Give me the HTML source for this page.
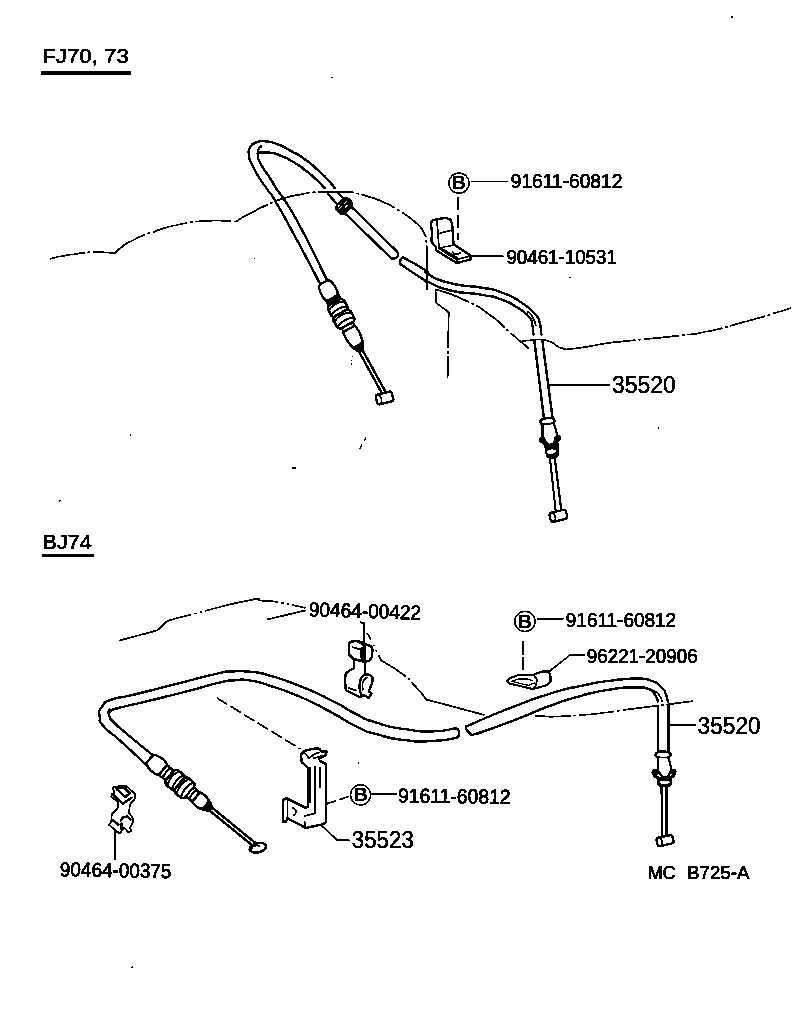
<!DOCTYPE html>
<html><head><meta charset="utf-8"><title>Diagram</title>
<style>
html,body{margin:0;padding:0;background:#fff;}
body{width:792px;height:1010px;overflow:hidden;}
svg{display:block;}
text{font-family:"Liberation Sans",sans-serif;fill:#000;}
.s{fill:none;stroke:#000;stroke-width:2.4;stroke-linecap:round;stroke-linejoin:round;}
.sw{fill:#fff;stroke:#000;stroke-width:2.4;stroke-linecap:round;stroke-linejoin:round;}
.t{fill:none;stroke:#000;stroke-width:1.75;stroke-linecap:round;stroke-linejoin:round;}
.dd{fill:none;stroke:#000;stroke-width:1.75;stroke-dasharray:36 2.5 3 2.5;}
.k{fill:#000;stroke:#000;stroke-width:1;stroke-linejoin:round;}
</style></head>
<body>
<svg width="792" height="1010" viewBox="0 0 792 1010">
<defs><filter id="bw" x="0" y="0" width="792" height="1010" filterUnits="userSpaceOnUse" color-interpolation-filters="sRGB">
<feColorMatrix type="saturate" values="0"/>
<feComponentTransfer><feFuncR type="discrete" tableValues="0 1"/><feFuncG type="discrete" tableValues="0 1"/><feFuncB type="discrete" tableValues="0 1"/></feComponentTransfer>
</filter></defs>
<g filter="url(#bw)">
<rect width="792" height="1010" fill="#fff"/>
<text x="42.3" y="63.2" font-size="20.0" font-weight="normal" text-anchor="start" stroke="#000" stroke-width="0.60" textLength="86.5" lengthAdjust="spacingAndGlyphs">FJ70, 73</text>
<rect x="41" y="71.5" width="90.2" height="3" fill="#000"/>
<text x="42.6" y="548.6" font-size="20.3" font-weight="normal" text-anchor="start" stroke="#000" stroke-width="0.60" textLength="49.2" lengthAdjust="spacingAndGlyphs">BJ74</text>
<rect x="42" y="553.8" width="52" height="3" fill="#000"/>
<path class="dd" d="M49.7,259.0 C53.8,258.0 53.4,257.7 62.0,256.0 C70.6,254.3 65.0,255.4 75.5,254.0 C86.0,252.6 83.8,252.3 93.6,251.8 C103.4,251.3 97.9,252.0 105.0,252.5 C112.1,253.0 111.5,253.0 114.8,253.3" />
<path class="dd" d="M114.8,253.3 C117.5,250.9 116.9,250.3 123.0,246.0 C129.1,241.7 123.7,244.7 133.0,240.3 C142.3,235.9 134.8,238.1 151.0,232.7 C167.2,227.3 161.2,228.0 181.5,224.0 C201.8,220.0 197.5,221.6 212.0,220.6 C226.5,219.6 217.0,220.7 225.0,221.0 C233.0,221.3 232.3,221.3 236.0,221.5" />
<path class="dd" d="M236.0,221.5 C240.0,219.2 237.0,220.3 248.0,214.5 C259.0,208.7 256.7,209.5 269.0,204.0 C281.3,198.5 274.7,201.1 285.0,198.0 C295.3,194.9 290.3,196.5 300.0,194.6 C309.7,192.7 304.0,193.2 314.0,192.2 C324.0,191.2 319.3,191.8 330.0,191.7 C340.7,191.6 337.7,191.5 346.0,191.9 C354.3,192.3 347.9,191.5 355.0,193.0 C362.1,194.5 358.3,193.5 367.3,196.3 C376.3,199.1 372.0,197.1 382.0,201.5 C392.0,205.9 386.2,202.7 397.2,209.5 C408.2,216.3 406.2,214.2 415.0,221.9 C423.8,229.6 420.0,226.1 423.7,232.5 C427.4,238.9 425.2,236.2 426.2,241.0 C427.2,245.8 426.5,245.0 426.6,247.0" />
<path class="s" d="M426.7,247.0 L426.8,290.8" style="stroke-width:2.2" stroke-dasharray="26 2.5 14 2.5 20"/>
<path class="t" d="M435.5,289.6 L436.2,302.9 L448.7,312.3" />
<path class="dd" d="M448.7,312.3 L447.6,378.0" />
<path class="dd" d="M435.5,289.2 C445.6,293.0 447.3,291.7 465.8,300.6 C484.3,309.5 475.9,304.9 491.0,315.8 C506.1,326.7 498.3,322.5 511.0,333.4 C523.7,344.3 523.0,343.5 529.0,348.6" />
<path class="t" d="M522.6,341.0 C526.4,340.7 527.7,340.4 534.0,340.0 C540.3,339.6 535.6,338.9 541.5,339.7 C547.4,340.5 544.9,339.5 551.6,342.3 C558.3,345.1 554.0,346.1 561.7,348.2 C569.4,350.3 561.8,349.7 574.6,348.5 C587.4,347.3 591.5,345.8 600.0,344.5" />
<path class="dd" d="M600.0,344.5 C606.2,343.6 592.9,344.7 618.6,341.8 C644.3,338.9 647.7,339.3 677.0,335.9 C706.3,332.5 685.0,335.9 706.5,331.5 C728.0,327.1 713.3,330.5 741.6,322.7 C769.9,314.9 774.8,312.9 791.4,308.0" />
<path class="s" d="M319.4,282.6 C311.5,267.6 310.3,264.6 295.6,237.5 C280.9,210.4 284.7,217.1 275.4,201.3 C266.1,185.5 272.9,197.6 267.7,190.0 C262.5,182.4 265.1,187.4 259.7,178.5 C254.3,169.6 255.0,171.4 251.4,163.3 C247.8,155.2 249.1,159.7 248.8,154.2 C248.5,148.7 248.0,150.6 250.6,146.7 C253.2,142.8 251.6,144.2 256.7,142.4 C261.8,140.6 258.7,140.7 265.8,141.4 C272.9,142.1 269.3,141.1 277.9,144.4 C286.5,147.7 282.4,146.2 291.5,151.2 C300.6,156.2 296.1,152.9 305.2,159.5 C314.3,166.1 310.7,163.6 318.8,170.9 C326.9,178.2 324.1,175.7 329.4,181.5 C334.7,187.3 332.9,186.0 334.7,188.3" />
<path class="s" d="M338.5,193.6 L344.5,199.7" />
<path class="s" d="M326.5,279.1 C318.2,262.5 315.5,255.3 301.6,229.2 C287.7,203.1 293.0,213.8 284.9,200.7 C276.8,187.6 282.1,197.4 277.2,190.0 C272.3,182.6 275.6,186.9 270.3,178.5 C265.0,170.1 265.3,172.4 261.2,164.8 C257.1,157.2 258.7,161.1 257.9,155.8 C257.1,150.5 257.8,152.0 258.9,148.9 C260.0,145.8 260.4,147.2 261.2,146.4" />
<path class="s" d="M258.2,152.7 C262.2,152.7 262.7,151.7 270.3,152.7 C277.9,153.7 273.3,152.8 280.9,155.8 C288.5,158.8 284.9,157.0 293.0,161.8 C301.1,166.6 297.6,164.4 305.2,170.2 C312.8,176.0 309.3,173.2 315.8,179.2 C322.3,185.2 321.8,185.3 324.8,188.3" />
<path class="s" d="M327.9,193.6 L337.0,204.2" />
<g transform="translate(344.0,205.8) rotate(44.5)">
<rect class="k" x="-6.2" y="-8.6" width="12.6" height="17.2" rx="4" ry="6"/>
<path d="M-1.2,-5 L-1.2,-1.5 M-1.2,2 L-1.2,5.5 M1.8,-3.5 L1.8,0.5 M-3.8,2.5 L-3.8,4.5" stroke="#fff" stroke-width="1.2" fill="none"/>
</g>
<path class="s" d="M352.3,207.7 L396.5,251.0" />
<path class="s" d="M345.8,214.2 L391.8,258.8" />
<path class="s" d="M396.5,251.0 C397.1,252.3 398.4,252.7 398.2,255.0 C398.0,257.3 397.9,256.7 395.8,258.0 C393.7,259.3 393.1,258.5 391.8,258.8" />
<path class="s" d="M402.8,257.2 C402.0,258.3 401.1,258.1 400.3,260.5 C399.5,262.9 400.4,263.0 400.5,264.3" />
<path class="s" d="M402.8,257.2 C410.3,261.6 417.0,264.7 425.4,270.3 C433.8,275.9 419.5,269.8 427.9,274.1 C436.3,278.4 432.9,278.7 450.5,283.2 C468.1,287.7 464.0,284.5 480.8,287.5 C497.6,290.5 487.5,287.3 501.0,292.3 C514.5,297.3 509.8,295.0 521.2,302.4 C532.6,309.8 529.1,307.8 535.2,314.5 C541.3,321.2 537.5,315.9 539.6,322.6 C541.7,329.3 540.8,330.5 541.4,334.5" />
<path class="s" d="M400.5,264.3 C407.9,269.2 413.7,273.3 422.8,279.1 C431.9,284.9 418.7,277.9 427.9,281.7 C437.1,285.5 432.9,286.2 450.5,290.5 C468.1,294.8 464.0,291.6 480.8,294.6 C497.6,297.6 488.9,295.1 501.0,299.4 C513.1,303.7 507.9,301.7 517.2,307.5 C526.5,313.3 523.8,311.1 528.8,316.8 C533.8,322.5 530.7,318.7 532.2,324.6 C533.7,330.5 533.0,331.2 533.4,334.5" />
<path class="t" d="M527.5,311.5 C529.3,313.5 530.2,312.8 533.0,317.5 C535.8,322.2 534.9,322.8 535.8,325.5" />
<path class="s" d="M534.4,341.0 L544.0,419.0" />
<path class="s" d="M542.4,341.0 L552.4,417.0" />
<g transform="translate(547.4,421.3) rotate(-7)">
<ellipse class="sw" cx="0" cy="0" rx="7.2" ry="3.3" style="stroke-width:2.6"/>
</g>
<path class="sw" d="M542.6,425.0 L542.6,437.5 L548.5,445.0 L553.5,444.0 L557.3,435.0 L554.2,424.5" style="stroke-width:2.2"/>
<circle class="k" cx="542.3" cy="440" r="2.9"/><circle class="k" cx="557.7" cy="438.2" r="2.9"/>
<path class="s" d="M541.5,441.0 L548.3,446.3 L553.8,445.3 L558.3,439.5" style="stroke-width:3"/>
<path class="k" d="M544.6,445 L558.4,443.5 L558.8,454.5 C558.8,458.5 547,460 546.2,455.5 Z" />
<ellipse cx="551.3" cy="451.6" rx="4.7" ry="2.1" fill="#fff" transform="rotate(-7 551.3 451.6)"/>
<path class="s" d="M549.9,458.0 L555.6,510.0" style="stroke-width:2.1"/>
<path class="s" d="M554.7,457.5 L561.2,509.5" style="stroke-width:2.1"/>
<g transform="translate(558.3,515.8) rotate(-14)">
<rect class="sw" x="-8.5" y="-4.6" width="17" height="9.2" rx="2.5"/>
<path class="t" d="M-4.5,-4.4 C-2.8,-2 -2.8,2 -4.5,4.4"/>
</g>
<path class="t" d="M549.4,385.0 L609.8,385.0" />
<text x="612.0" y="393.2" font-size="24.3" font-weight="normal" text-anchor="start" stroke="#000" stroke-width="0.50" textLength="63.8" lengthAdjust="spacingAndGlyphs">35520</text>
<circle class="s" cx="459.0" cy="183.1" r="10.1" style="stroke-width:1.5"/>
<text x="452.1" y="189.3" font-size="17.6" font-weight="bold" textLength="14.0" lengthAdjust="spacingAndGlyphs" stroke="#000" stroke-width="0.3">B</text>
<path class="t" d="M471.5,181.3 L507.8,181.5" style="stroke-width:1.5"/>
<text x="510.8" y="187.9" font-size="20.2" font-weight="normal" text-anchor="start" stroke="#000" stroke-width="0.75" textLength="111.5" lengthAdjust="spacingAndGlyphs">91611-60812</text>
<path class="t" d="M458.0,197.2 L458.0,239.0" stroke-dasharray="12.5 5.5"/>
<path class="t" d="M470.5,256.0 L503.0,256.0" />
<text x="506.4" y="263.5" font-size="20.2" font-weight="normal" text-anchor="start" stroke="#000" stroke-width="0.75" textLength="110.5" lengthAdjust="spacingAndGlyphs">90461-10531</text>
<path class="sw" d="M430.7,223.4 L432.6,220.2 L445.3,217.7 L450.3,219.6 L452.2,224.0 L453.5,244.2 L470.5,255.6 L470.5,259.3 L456.6,263.1 L436.4,250.5 L435.8,246.7 L431.4,241.7 L432.0,231.6 Z" />
<path class="t" d="M437.0,220.8 L439.0,248.0 L451.6,245.5 L453.5,244.2" />
<path class="t" d="M439.0,233.5 L451.0,230.3" />
<path class="t" d="M439.0,248.6 L456.6,259.5 L470.5,255.8" />
<path class="t" d="M456.6,259.5 L456.6,263.1" />
<path class="t" d="M441.8,248.4 L458.0,258.3" />
<path class="t" d="M452.5,252 C453.5,254.5 458,255 460,253" />
<g transform="translate(323.8,282.3) rotate(61.5)">
<path class="sw" d="M0.0,-4.3 C2.0,-8.8 14.0,-8.8 18.0,-6.3 L18.0,6.3 C14.0,8.8 2.0,8.8 0.0,4.3 Z"/>
<path class="k" d="M16.0,-7.6 L22.0,-7.6 L22.0,7.6 L16.0,7.6 C18.0,3.0 18.0,-3.0 16.0,-7.6 Z"/>
<rect class="sw" x="22.5" y="-9.3" width="13.5" height="18.6" rx="3.5" ry="5.1" style="stroke-width:2.6"/>
<path class="s" d="M27.0,-8.8 C24.0,-3.7 24.0,3.7 27.0,8.8" style="stroke-width:2"/>
<path class="s" d="M32.5,-8.8 C29.5,-3.7 29.5,3.7 32.5,8.8" style="stroke-width:2"/>
<rect class="sw" x="35.0" y="-9.8" width="14.0" height="19.6" rx="3.5" ry="5.4" style="stroke-width:2.6"/>
<path class="s" d="M39.5,-9.3 C36.5,-3.9 36.5,3.9 39.5,9.3" style="stroke-width:2"/>
<path class="s" d="M45.5,-9.3 C42.5,-3.9 42.5,3.9 45.5,9.3" style="stroke-width:2"/>
<ellipse class="sw" cx="51.0" cy="0" rx="2.4" ry="6.5" style="stroke-width:2.0"/>
<path class="sw" d="M53.0,-6.6 C58.0,-8.1 71.0,-7.6 78.0,-2.2 L78.0,2.2 C71.0,7.6 58.0,8.1 53.0,6.6 Z"/>
<path class="k" d="M70.0,-6.0 L78.0,-2.2 L78.0,2.2 L70.0,6.0 C71.5,2 71.5,-2 70.0,-6.0 Z"/>
</g>
<path class="s" d="M358.9,351.5 L382.3,393.9" />
<path class="s" d="M362.3,349.7 L385.7,392.1" />
<g transform="translate(384.3,398) rotate(-14)">
<rect class="sw" x="-8" y="-5" width="16.5" height="10" rx="2"/>
<path class="t" d="M-4.5,-4.8 C-2.8,-2 -2.8,2 -4.5,4.8"/>
</g>
<circle cx="352.3" cy="356.5" r="0.80"/>
<circle cx="351.8" cy="360.5" r="0.80"/>
<circle cx="351.4" cy="364.0" r="0.80"/>
<circle cx="658.5" cy="428.2" r="0.90"/>
<circle cx="331.8" cy="77.3" r="0.90"/>
<circle cx="254.6" cy="258.6" r="0.85"/>
<circle cx="731.8" cy="17.2" r="1.10"/>
<circle cx="132.3" cy="967.2" r="0.95"/>
<circle cx="569.8" cy="277.7" r="0.85"/>
<circle cx="130.3" cy="435.2" r="0.85"/>
<circle cx="358.6" cy="763.2" r="0.85"/>
<path class="t" d="M366.0,437.8 L364.2,441.0" style="stroke-width:1.4"/>
<path class="t" d="M361.5,445.0 L359.8,448.5" style="stroke-width:1.4"/>
<path class="t" d="M292.5,468.0 L295.5,468.0" style="stroke-width:1.5"/>
<path class="t" d="M59.0,501.2 L60.4,500.2" style="stroke-width:1.4"/>
<path class="dd" d="M118.8,640.6 C125.9,638.7 126.9,638.5 140.0,635.0 C153.1,631.5 152.1,631.7 158.2,630.0" style="stroke-dasharray:none"/>
<path class="dd" d="M158.2,630.0 C159.5,628.7 159.0,629.0 162.0,626.0 C165.0,623.0 165.5,622.7 167.3,621.0" style="stroke-dasharray:none"/>
<path class="dd" d="M167.3,621.0 C176.9,618.4 169.2,620.1 196.0,613.3 C222.8,606.5 225.6,604.8 247.6,600.6 C269.6,596.4 250.9,599.9 262.0,600.6 C273.1,601.3 266.5,600.3 281.0,602.7 C295.5,605.1 297.3,606.2 305.5,607.9" style="stroke-dasharray:25 3 2.5 3 2.5 3 77 3 2.5 3 2.5 3 30"/>
<path class="t" d="M267.6,619.4 L305.5,610.3" />
<text x="308.7" y="616.2" font-size="20.2" font-weight="normal" text-anchor="start" stroke="#000" stroke-width="0.75" textLength="112.3" lengthAdjust="spacingAndGlyphs" transform="rotate(1.75 308.7 616.2)">90464-00422</text>
<path class="s" d="M364.2,622.5 L364.2,643.0" style="stroke-width:2"/>
<path class="t" d="M360.5,622.0 L364.0,624.0" />
<path class="dd" d="M367.0,633.0 C368.7,636.0 367.3,632.9 372.0,642.0 C376.7,651.1 378.0,654.2 381.0,660.3" style="stroke-dasharray:8 5 2 4 2 4 9 0"/>
<path class="dd" d="M381.0,660.3 C388.1,664.9 391.1,665.4 402.4,674.0 C413.7,682.6 406.9,677.4 415.0,686.0 C423.1,694.6 422.8,695.1 426.7,699.7" style="stroke-dasharray:30 2.5 2.5 2.5 40"/>
<path class="t" d="M426.7,699.7 L484.0,714.8" />
<path class="sw" d="M348.8,643.7 L350.8,641.7 L357.7,640.7 L371.6,646.6 L372.6,649.6 L371.6,657.5 L369.1,661.0 L363.7,661.5 L353.8,659.0 L349.3,655.0 Z" style="stroke-width:2.4"/>
<path class="s" d="M357.7,641.2 L364.6,645.6 L364.6,659.5" />
<path class="t" d="M352.3,647.1 L360.7,649.6" />
<path class="k" d="M360.2,648.0 L365.2,647.0 L365.2,661.0 L361.0,658.5 Z" />
<path class="s" d="M353.8,659.5 L353.8,668.4 C349,670 345,673 344.9,678.3 L345.8,690.2 L359.7,697.1 L361.7,696.1 C359,690 359,684 360.7,679.3 C362,676 364.7,674.4 367,674.4 C370,674.4 372.6,676 372.6,679.3 C372.6,684 370,688 368.6,691.2 L371.6,693.2 L368.6,698.1 L363.7,695.1 L361.7,696.1" style="stroke-width:2.4"/>
<path class="s" d="M365.1,661.5 L365.1,673.4" style="stroke-width:2.4"/>
<path class="t" d="M362.9,690 C361.7,685 362.7,680 366.8,677.5" />
<path class="t" d="M348.8,688.2 L356.2,690.7" />
<circle class="s" cx="524.9" cy="621.4" r="10.1" style="stroke-width:1.5"/>
<text x="518.0" y="627.6" font-size="17.6" font-weight="bold" textLength="14.0" lengthAdjust="spacingAndGlyphs" stroke="#000" stroke-width="0.3">B</text>
<path class="t" d="M537.2,618.8 L563.0,618.8" />
<text x="565.8" y="627.1" font-size="20.2" font-weight="normal" text-anchor="start" stroke="#000" stroke-width="0.75" textLength="110.3" lengthAdjust="spacingAndGlyphs">91611-60812</text>
<path class="t" d="M523.2,641.5 L523.2,669.7" stroke-dasharray="13 3"/>
<text x="586.8" y="662.6" font-size="20.2" font-weight="normal" text-anchor="start" stroke="#000" stroke-width="0.75" textLength="110.8" lengthAdjust="spacingAndGlyphs">96221-20906</text>
<path class="t" d="M549.5,671.2 L569.9,655.1 L584.4,655.1" />
<path class="sw" d="M507.2,680.8 L509.1,678.6 L516.7,675.5 L531.8,675.2 L541.7,671.7 L548.5,671.7 L550.4,675.2 L550.4,682.0 L547.0,685.0 L532.6,689.2 L528.8,688.0 L509.1,683.5 Z" style="stroke-width:2.2"/>
<path class="t" d="M534.8,676.3 C537.5,679 537.8,684 533.5,688.8" />
<path class="t" d="M512,681.4 L518,679.2 L528,679.2 L532.5,680.6 M512,681.4 L528.5,685.3 L534.5,682.8" style="stroke-width:1.3"/>
<path class="s" d="M146.6,765.0 C137.8,756.9 134.5,753.6 120.3,740.8 C106.1,728.0 111.0,734.8 104.1,726.7 C97.2,718.6 100.4,723.3 99.7,716.6 C99.0,709.9 97.9,712.2 102.1,706.5 C106.3,700.8 102.8,703.1 112.2,699.4 C121.6,695.7 110.9,700.1 130.4,695.4 C149.9,690.7 141.2,692.7 170.8,685.3 C200.4,677.9 199.1,677.6 219.3,673.1 C239.5,668.6 221.3,672.2 231.4,671.7 C241.5,671.2 236.6,670.3 249.6,671.7 C262.6,673.1 253.3,670.9 270.3,675.8 C287.3,680.7 280.4,678.3 300.6,686.4 C320.8,694.5 312.7,690.9 330.9,700.0 C349.1,709.1 340.0,706.0 355.2,713.6 C370.4,721.2 359.2,717.4 376.4,722.7 C393.6,728.0 387.5,726.6 406.7,729.4 C425.9,732.2 417.7,731.6 433.9,731.2 C450.1,730.8 448.1,729.2 455.2,728.2" />
<path class="s" d="M152.6,755.0 C145.2,748.9 143.2,747.6 130.4,736.8 C117.6,726.0 121.3,729.7 114.2,722.6 C107.1,715.5 110.9,720.0 109.2,715.6 C107.5,711.2 109.2,711.5 109.2,709.5" />
<path class="s" d="M110.2,711.5 C112.2,710.5 102.8,712.2 116.3,708.5 C129.8,704.8 125.7,706.5 150.6,700.4 C175.5,694.3 168.1,696.2 191.0,690.3 C213.9,684.4 204.5,686.0 219.3,682.6 C234.1,679.2 225.4,680.9 235.5,680.2 C245.6,679.5 238.0,678.5 249.6,680.4 C261.2,682.3 253.3,680.3 270.3,685.8 C287.3,691.3 280.4,688.2 300.6,697.0 C320.8,705.8 312.7,702.5 330.9,712.1 C349.1,721.7 340.0,718.4 355.2,725.8 C370.4,733.2 359.2,729.4 376.4,734.2 C393.6,739.0 387.5,738.1 406.7,740.3 C425.9,742.5 417.2,741.7 433.9,740.9 C450.6,740.1 449.1,738.9 456.7,737.9" />
<path class="s" d="M455.2,728.2 C456.2,728.8 456.9,727.9 458.2,730.0 C459.5,732.1 459.5,731.9 459.0,734.5 C458.5,737.1 457.5,736.8 456.7,737.9" />
<path class="s" d="M466.0,726.7 C466.3,728.0 464.9,727.7 466.9,730.5 C468.9,733.3 470.3,733.6 472.0,735.2" />
<path class="s" d="M466.0,726.7 C474.1,723.1 472.1,723.6 490.3,716.0 C508.5,708.4 500.4,711.6 520.6,704.0 C540.8,696.4 530.8,699.4 551.0,693.3 C571.2,687.2 561.0,690.0 581.2,685.8 C601.4,681.6 593.3,682.9 611.5,680.6 C629.7,678.3 622.6,678.8 635.8,678.8 C649.0,678.8 642.4,677.8 651.0,680.6 C659.6,683.4 656.5,682.6 661.5,687.3 C666.5,692.0 663.9,690.1 666.0,694.8 C668.1,699.5 667.2,699.3 667.8,701.5" />
<path class="s" d="M472.0,735.2 C478.1,733.1 474.1,734.9 490.3,729.0 C506.5,723.1 500.4,725.4 520.6,717.6 C540.8,709.8 530.8,712.8 551.0,705.5 C571.2,698.2 561.0,701.2 581.2,695.8 C601.4,690.4 593.3,692.2 611.5,689.4 C629.7,686.6 623.7,687.5 635.8,687.3 C647.9,687.1 641.8,686.8 647.9,688.8 C654.0,690.8 650.6,689.1 654.0,693.3 C657.4,697.5 656.7,698.8 658.0,701.5" />
<path class="t" d="M649.4,688.8 C651.6,689.9 652.5,689.5 656.0,692.0 C659.5,694.5 658.0,693.2 660.0,696.4 C662.0,699.6 661.3,699.8 662.0,701.5" />
<path class="s" d="M668.6,705.0 L668.6,751.0" />
<path class="s" d="M658.2,706.0 L658.2,751.0" />
<path class="dd" d="M535.0,716.0 C549.5,715.8 544.3,717.9 578.5,715.3 C612.7,712.7 599.5,712.9 637.6,708.2 C675.7,703.5 674.4,703.5 692.8,701.2" />
<path class="t" d="M668.0,725.2 L695.5,725.2" />
<text x="697.6" y="733.9" font-size="24.3" font-weight="normal" text-anchor="start" stroke="#000" stroke-width="0.50" textLength="63.0" lengthAdjust="spacingAndGlyphs">35520</text>
<ellipse class="sw" cx="663.1" cy="754.8" rx="7.7" ry="3.4" style="stroke-width:2.5"/>
<path class="sw" d="M657.8,758.5 L657.8,771.0 L663.0,777.0 L668.0,777.0 L671.3,769.0 L668.7,758.5" style="stroke-width:2.1"/>
<circle class="k" cx="655" cy="772.5" r="3.1"/><circle class="k" cx="673.3" cy="771.8" r="2.8"/>
<path class="s" d="M653.5,774 C655,778 660,778.5 664,778.5 C668,778.5 673,778 675,773.5" style="stroke-width:3"/>
<path class="k" d="M657.2,778 L671.8,778 L671.8,784 C671.8,788 657.2,788 657.2,784 Z" />
<ellipse cx="664.6" cy="782.3" rx="5.2" ry="1.7" fill="#fff"/>
<path class="s" d="M661.6,787.0 L662.3,836.5" />
<path class="s" d="M666.6,787.0 L666.6,836.5" />
<g transform="translate(665,840.6) rotate(-12)">
<rect class="sw" x="-8.2" y="-4.3" width="16.4" height="8.6" rx="2.5"/>
<path class="t" d="M-4.3,-4.2 C-2.8,-2 -2.8,2 -4.3,4.2"/>
</g>
<text x="648.0" y="879.2" font-size="19.0" font-weight="normal" text-anchor="start" stroke="#000" stroke-width="0.75" textLength="27.4" lengthAdjust="spacingAndGlyphs">MC</text>
<text x="687.0" y="879.2" font-size="19.0" font-weight="normal" text-anchor="start" stroke="#000" stroke-width="0.75" textLength="62.4" lengthAdjust="spacingAndGlyphs">B725-A</text>
<g transform="translate(149.7,759.0) rotate(39.5)">
<path class="sw" d="M0.0,-4.3 C2.0,-9.1 13.0,-9.1 17.0,-6.6 L17.0,6.6 C13.0,9.1 2.0,9.1 0.0,4.3 Z"/>
<ellipse class="sw" cx="19.5" cy="0" rx="2.4" ry="6.8" style="stroke-width:2.0"/>
<ellipse class="sw" cx="23.5" cy="0" rx="2.4" ry="6.8" style="stroke-width:2.0"/>
<rect class="sw" x="26.0" y="-9.4" width="14.0" height="18.8" rx="3.5" ry="5.2" style="stroke-width:2.6"/>
<path class="s" d="M30.5,-8.9 C27.5,-3.8 27.5,3.8 30.5,8.9" style="stroke-width:2"/>
<path class="s" d="M36.5,-8.9 C33.5,-3.8 33.5,3.8 36.5,8.9" style="stroke-width:2"/>
<rect class="sw" x="38.5" y="-10.0" width="13.5" height="20.0" rx="3.5" ry="5.5" style="stroke-width:2.6"/>
<path class="s" d="M43.0,-9.5 C40.0,-4.0 40.0,4.0 43.0,9.5" style="stroke-width:2"/>
<path class="s" d="M48.5,-9.5 C45.5,-4.0 45.5,4.0 48.5,9.5" style="stroke-width:2"/>
<ellipse class="sw" cx="54.0" cy="0" rx="2.4" ry="6.3" style="stroke-width:2.0"/>
<ellipse class="sw" cx="57.5" cy="0" rx="2.4" ry="6.3" style="stroke-width:2.0"/>
<path class="sw" d="M60.0,-6.2 C65.0,-7.7 72.0,-7.2 79.0,-2.2 L79.0,2.2 C72.0,7.2 65.0,7.7 60.0,6.2 Z"/>
<path class="k" d="M71.0,-5.6 L79.0,-2.2 L79.0,2.2 L71.0,5.6 C72.5,2 72.5,-2 71.0,-5.6 Z"/>
</g>
<path class="s" d="M211.0,811.8 L254.3,847.0" />
<path class="s" d="M213.4,808.8 L256.7,844.0" />
<ellipse class="sw" cx="257.8" cy="847.8" rx="8.4" ry="4.6" transform="rotate(-14 257.8 847.8)"/>
<path class="t" d="M251.5,849 C252,846 256,844.5 259,846"/>
<path class="t" d="M217.3,698.2 L300.0,748.8" stroke-dasharray="11 5"/>
<path class="t" d="M327.1,803.6 L349.5,796.3" stroke-dasharray="9 4"/>
<path class="sw" d="M301.0,754.6 L304.8,750.8 L313.5,748.6 L319.0,748.6 L321.1,751.3 L326.6,751.3 L326.0,755.1 L319.0,758.4 L320.0,761.1 L326.0,763.8 L326.0,822.0 L323.3,824.2 L305.9,828.0 L287.4,818.2 L285.8,822.0 L283.0,821.5 L283.0,800.3 L286.3,798.1 L305.9,807.9 L308.0,806.8 L308.0,767.6 L301.6,762.2 Z" />
<path class="t" d="M315.2,766.6 L315.2,813.3 L304.8,816.0" />
<path class="t" d="M320.0,767.6 L320.0,787.2" />
<path class="t" d="M309.9,767.6 L309.9,802.0" />
<path class="t" d="M304.8,753.0 L309.2,758.4 L313.5,754.6 L319.0,752.4" />
<path class="t" d="M313.5,758.4 L321.1,756.2" />
<path class="t" d="M304.8,822.0 L304.8,827.5" />
<path class="t" d="M293,808 C296.5,809 297,814 293.5,815.5" />
<path class="t" d="M287.4,818.2 L287.4,800.0" />
<path class="t" d="M321.5,825.3 L336.9,840.0 L349.0,840.0" />
<text x="351.8" y="847.9" font-size="24.3" font-weight="normal" text-anchor="start" stroke="#000" stroke-width="0.50" textLength="62.0" lengthAdjust="spacingAndGlyphs">35523</text>
<circle class="s" cx="360.6" cy="794.8" r="10.1" style="stroke-width:1.5"/>
<text x="353.7" y="801.0" font-size="17.6" font-weight="bold" textLength="14.0" lengthAdjust="spacingAndGlyphs" stroke="#000" stroke-width="0.3">B</text>
<path class="t" d="M371.8,794.0 L396.4,794.0" />
<text x="398.0" y="802.6" font-size="20.2" font-weight="normal" text-anchor="start" stroke="#000" stroke-width="0.75" textLength="112.5" lengthAdjust="spacingAndGlyphs" transform="rotate(0.60 398.0 802.6)">91611-60812</text>
<path class="sw" d="M113.2,787.1 L115.5,786.4 L116.2,787.5 L120.0,785.6 L125.7,785.6 L135.2,794.0 L135.2,798.5 L129.8,804.5 L129.1,812.9 L132.9,818.2 L132.9,822.0 L130.2,828.0 L131.4,831.0 L128.3,832.2 L123.8,827.3 L120.8,832.6 L119.2,833.3 L113.9,828.8 L108.6,824.6 L111.3,822.3 L111.7,814.4 L117.7,808.3 L117.7,801.5 L111.3,797.0 L111.7,794.0 L114.7,793.2 L113.2,789.4 Z" style="stroke-width:1.8"/>
<path class="s" d="M116.2,788.6 L123.8,787.1 L129.8,793.2 L125.3,797.0 L116.2,788.6" />
<path class="s" d="M113.9,795.5 L123.0,803.8 L131.4,797.7" />
<path class="s" d="M120.8,820.5 L123.0,817.4 L127.6,816.3 L130.6,819.7" />
<path class="s" d="M121.5,823.5 L121.5,829.5" />
<path class="s" d="M113.2,820.5 L118.5,825.0" />
<path class="s" d="M115.2,830.0 L115.2,859.0" />
<text x="59.8" y="876.2" font-size="20.2" font-weight="normal" text-anchor="start" stroke="#000" stroke-width="0.75" textLength="111.6" lengthAdjust="spacingAndGlyphs" transform="rotate(1.00 59.8 876.2)">90464-00375</text>
</g>
</svg>
</body></html>
